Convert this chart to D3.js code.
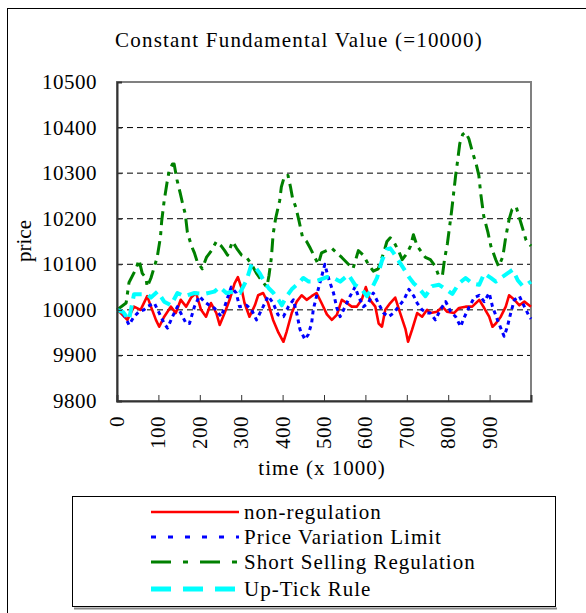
<html>
  <head>
    <meta charset='utf-8'>
    <script src='https://d3js.org/d3.v7.min.js'></script>
    <style>
      body { margin: 0; background: #fff; }
      text { font-family: 'Liberation Serif', 'Times New Roman', serif; fill: #000; }
    </style>
  </head>
  <body>
    <div id='chart'></div>
    <script>
        // [time (x 1000), price]
        const nonRegulation = [[0,10000],[9,9993],[25,9978],[41,10007],[57,10000],[73,10030],[82,10007],[94,9978],[102,9963],[114,9985],[130,10007],[142,9993],[154,10022],[167,10007],[179,10027],[191,10037],[203,10000],[215,9985],[227,10015],[240,9993],[248,9967],[260,9993],[272,10022],[284,10058],[292,10072],[300,10050],[308,10015],[320,9985],[333,10010],[341,10032],[353,10037],[365,10015],[377,9978],[390,9950],[402,9930],[410,9953],[422,9993],[434,10018],[446,10032],[458,10022],[470,10030],[482,10037],[494,10015],[507,9990],[519,9978],[531,9989],[543,10022],[555,10015],[567,10007],[579,10007],[591,10022],[601,10050],[611,10022],[624,10007],[632,9970],[640,9963],[648,10000],[660,10015],[672,10027],[684,9993],[697,9957],[703,9930],[713,9957],[725,9993],[737,9985],[749,10000],[757,9993],[773,9996],[786,10007],[797,9996],[814,9993],[826,10004],[842,10007],[858,10007],[875,10022],[887,10004],[899,9985],[907,9963],[915,9970],[927,9985],[939,10007],[947,10032],[960,10022],[972,10010],[984,10018],[1000,10007]];
        const priceVariationLimit = [[0,10000],[5,10000],[17,9989],[29,9967],[41,9985],[53,9996],[65,10000],[73,10007],[90,10015],[102,9993],[114,9970],[122,9960],[134,9985],[146,10007],[154,9993],[167,9970],[175,9970],[187,10007],[199,10030],[211,10018],[223,10010],[235,10004],[252,9985],[264,10018],[276,10050],[288,10037],[296,10007],[313,10010],[325,10000],[337,9978],[353,10007],[365,10030],[377,10015],[389,9989],[402,9985],[414,10007],[426,10022],[435,9989],[442,9957],[454,9935],[462,9946],[470,9970],[474,10000],[486,10045],[494,10072],[502,10100],[510,10072],[523,10037],[531,10004],[539,9985],[551,10007],[563,10030],[575,10050],[583,10030],[595,10007],[607,10015],[619,10037],[631,10015],[644,9993],[656,9985],[668,9993],[680,10007],[693,10022],[705,10045],[717,10030],[725,10015],[737,10000],[749,9993],[757,9993],[769,9978],[781,10000],[794,10018],[806,9996],[818,9985],[830,9963],[838,9982],[851,10007],[863,10027],[875,10032],[887,10018],[899,10037],[907,10007],[919,9978],[927,9960],[935,9942],[943,9963],[951,9993],[960,10022],[972,10030],[984,10007],[996,9985],[1000,9980]];
        const shortSelling = [[0,10000],[22,10015],[29,10060],[46,10090],[53,10110],[61,10080],[70,10070],[73,10050],[82,10070],[97,10115],[105,10160],[108,10195],[114,10240],[121,10280],[126,10305],[134,10320],[138,10320],[145,10285],[153,10255],[158,10235],[165,10210],[170,10170],[180,10140],[187,10125],[194,10105],[206,10090],[216,10115],[228,10130],[240,10150],[252,10140],[260,10130],[267,10120],[279,10150],[289,10135],[301,10120],[313,10115],[325,10100],[337,10080],[349,10065],[362,10050],[367,10075],[373,10115],[377,10165],[383,10200],[388,10220],[393,10240],[397,10270],[405,10295],[413,10295],[419,10270],[424,10245],[432,10225],[439,10198],[448,10160],[458,10150],[467,10135],[478,10115],[486,10100],[494,10125],[506,10130],[519,10135],[531,10125],[543,10115],[559,10100],[570,10090],[583,10130],[595,10120],[607,10100],[619,10085],[631,10090],[644,10125],[652,10150],[660,10158],[668,10150],[680,10130],[689,10110],[701,10125],[709,10140],[716,10165],[725,10140],[737,10125],[745,10115],[757,10110],[769,10095],[777,10075],[786,10075],[791,10110],[798,10145],[803,10180],[808,10215],[813,10255],[818,10295],[822,10322],[828,10365],[835,10385],[842,10390],[850,10375],[859,10345],[867,10322],[874,10295],[879,10252],[886,10205],[896,10170],[903,10140],[915,10110],[922,10095],[932,10117],[939,10160],[947,10198],[954,10220],[964,10227],[971,10205],[981,10175],[988,10153],[1000,10140]];
        const upTickRule = [[0,10000],[15,9995],[29,9978],[41,10034],[57,10034],[73,10034],[82,10027],[98,10040],[114,10018],[130,10010],[146,10037],[163,10030],[187,10037],[211,10035],[235,10040],[248,10050],[264,10037],[281,10040],[297,10037],[313,10065],[325,10100],[333,10095],[345,10080],[354,10065],[366,10048],[378,10037],[390,10022],[398,10010],[410,10030],[422,10045],[438,10058],[450,10070],[463,10062],[475,10062],[487,10065],[507,10072],[523,10070],[539,10062],[559,10077],[575,10055],[591,10045],[604,10030],[616,10048],[628,10070],[640,10108],[652,10133],[660,10135],[668,10125],[680,10108],[693,10090],[705,10072],[717,10058],[729,10048],[745,10030],[761,10052],[778,10055],[794,10045],[810,10035],[826,10058],[842,10070],[858,10058],[875,10055],[887,10080],[903,10070],[915,10062],[927,10070],[943,10080],[956,10088],[968,10065],[980,10052],[988,10055],[1000,10062]];

        const seriesNames = ['non-regulation', 'Price Variation Limit', 'Short Selling Regulation', 'Up-Tick Rule'];
        const xTicks = [0, 100, 200, 300, 400, 500, 600, 700, 800, 900];
        const yTicks = [9800, 9900, 10000, 10100, 10200, 10300, 10400, 10500];

        const styles = [
          { color: '#ff0000', width: 2.6, dash: null },
          { color: '#0000ff', width: 3, dash: '4,4' },
          { color: '#008000', width: 3, dash: '14,6,4,6' },
          { color: '#00ffff', width: 4, dash: '12,7' }
        ];
        const allSeries = [nonRegulation, priceVariationLimit, shortSelling, upTickRule];

        const plot = { left: 117, top: 82, right: 531, bottom: 401 };

        const svg = d3.select('#chart').append('svg')
                      .attr('width', 586)
                      .attr('height', 613);

        // outer frame
        svg.append('rect')
           .attr('x', 7.5).attr('y', 8.5)
           .attr('width', 700).attr('height', 700)
           .attr('fill', 'none').attr('stroke', '#000').attr('stroke-width', 1);

        svg.append('text')
           .attr('x', 299).attr('y', 47)
           .attr('text-anchor', 'middle')
           .style('font-size', '21px')
           .style('letter-spacing', '1.2px')
           .text('Constant Fundamental Value (=10000)');

        const x = d3.scaleLinear().domain([0, 1000]).range([plot.left, plot.right]);
        const y = d3.scaleLinear().domain([9800, 10500]).range([plot.bottom, plot.top]);

        // grid
        svg.append('g').selectAll('line')
           .data(yTicks.filter(d => d > 9800 && d < 10500))
           .join('line')
           .attr('x1', plot.left).attr('x2', plot.right)
           .attr('y1', d => y(d)).attr('y2', d => y(d))
           .attr('stroke', '#000').attr('stroke-width', 1)
           .attr('stroke-dasharray', '6,4');

        // plot frame (top / right grey)
        svg.append('rect')
           .attr('x', plot.left).attr('y', plot.top)
           .attr('width', plot.right - plot.left).attr('height', plot.bottom - plot.top)
           .attr('fill', 'none').attr('stroke', '#808080').attr('stroke-width', 2);

        const line = d3.line().x(d => x(d[0])).y(d => y(d[1]));

        allSeries.forEach((s, i) => {
          svg.append('path')
             .datum(s)
             .attr('d', line)
             .attr('fill', 'none')
             .attr('stroke', styles[i].color)
             .attr('stroke-width', styles[i].width)
             .attr('stroke-linejoin', 'round')
             .attr('stroke-dasharray', styles[i].dash);
        });

        // axes
        const yAxis = svg.append('g')
           .attr('transform', `translate(${plot.left},0)`)
           .call(d3.axisRight(y).tickValues(yTicks).tickSize(5).tickFormat(''));
        const xAxis = svg.append('g')
           .attr('transform', `translate(0,${plot.bottom})`)
           .call(d3.axisTop(x).tickValues(xTicks.slice(1)).tickSize(6).tickFormat(''));
        [yAxis, xAxis].forEach(a => {
          a.select('.domain').attr('stroke', '#333').attr('stroke-width', 2);
          a.selectAll('.tick line').attr('stroke', '#333').attr('stroke-width', 1);
        });

        svg.append('g').selectAll('text')
           .data(yTicks)
           .join('text')
           .attr('x', 97).attr('y', d => y(d) + 7)
           .attr('text-anchor', 'end')
           .style('font-size', '21px')
           .style('letter-spacing', '0.5px')
           .text(d => d);

        svg.append('g').selectAll('text')
           .data(xTicks)
           .join('text')
           .attr('transform', d => `translate(${x(d) + 7},416) rotate(-90)`)
           .attr('text-anchor', 'end')
           .style('font-size', '21px')
           .style('letter-spacing', '0.5px')
           .text(d => d);

        svg.append('text')
           .attr('x', 322).attr('y', 475)
           .attr('text-anchor', 'middle')
           .style('font-size', '21px')
           .style('letter-spacing', '1px')
           .text('time (x 1000)');

        svg.append('text')
           .attr('transform', 'translate(31,241) rotate(-90)')
           .attr('text-anchor', 'middle')
           .style('font-size', '21px')
           .text('price');

        // legend
        const legend = svg.append('g');
        legend.append('line')
           .attr('x1', 74).attr('x2', 557).attr('y1', 608.5).attr('y2', 608.5)
           .attr('stroke', '#888').attr('stroke-width', 2);
        legend.append('rect')
           .attr('x', 72.5).attr('y', 496.5).attr('width', 483).attr('height', 110)
           .attr('fill', '#fff').attr('stroke', '#000').attr('stroke-width', 1);
        const rows = [512, 537, 562, 589];
        seriesNames.forEach((name, i) => {
          legend.append('line')
             .attr('x1', 151).attr('x2', 239)
             .attr('y1', rows[i]).attr('y2', rows[i])
             .attr('stroke', styles[i].color)
             .attr('stroke-width', i == 3 ? 5 : styles[i].width)
             .attr('stroke-dasharray', i == 0 ? null : i == 1 ? '5,12' : i == 2 ? '20,12,5,12' : '20,12');
          legend.append('text')
             .attr('x', 244).attr('y', rows[i] + 7)
             .style('font-size', '21px')
             .style('letter-spacing', '1px')
             .text(name);
        });
    </script>
  </body>
</html>
